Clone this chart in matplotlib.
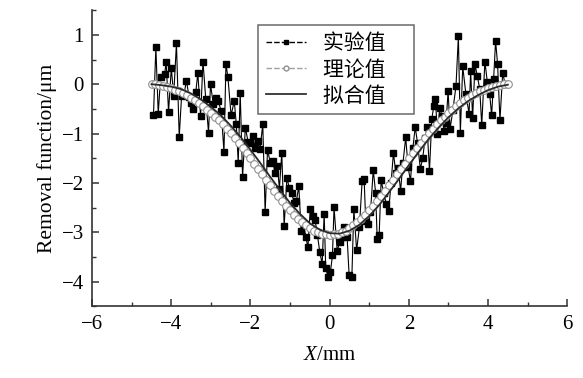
import matplotlib
matplotlib.use("Agg")
import matplotlib.pyplot as plt
import numpy as np
from matplotlib.lines import Line2D
from matplotlib.ticker import MultipleLocator

plt.rcParams["mathtext.fontset"] = "custom"
plt.rcParams["mathtext.it"] = "Liberation Serif:italic"
plt.rcParams["mathtext.rm"] = "Liberation Serif"

# 实验值 (measured)
exp_x = [-4.45, -4.39, -4.33, -4.27, -4.17, -4.13, -4.07, -4.00, -3.94, -3.87,
         -3.80, -3.74, -3.68, -3.62, -3.55, -3.50, -3.44, -3.38, -3.33, -3.26,
         -3.20, -3.13, -3.06, -3.01, -2.94, -2.88, -2.81, -2.74, -2.67, -2.62,
         -2.57, -2.49, -2.41, -2.36, -2.31, -2.26, -2.20, -2.13, -2.06, -2.00,
         -1.94, -1.88, -1.82, -1.76, -1.69, -1.63, -1.57, -1.50, -1.44, -1.38,
         -1.32, -1.27, -1.21, -1.15, -1.08, -1.02, -0.96, -0.90, -0.84, -0.78,
         -0.72, -0.66, -0.60, -0.55, -0.49, -0.43, -0.37, -0.31, -0.25, -0.19,
         -0.14, -0.10, -0.04, 0.02, 0.07, 0.11, 0.19, 0.25, 0.31, 0.36,
         0.44, 0.49, 0.56, 0.61, 0.68, 0.75, 0.82, 0.87, 0.91, 0.98,
         1.03, 1.10, 1.16, 1.20, 1.25, 1.30, 1.36, 1.43, 1.49, 1.55,
         1.61, 1.67, 1.73, 1.79, 1.85, 1.92, 1.98, 2.04, 2.10, 2.16,
         2.22, 2.29, 2.35, 2.41, 2.46, 2.52, 2.58, 2.63, 2.67, 2.72,
         2.78, 2.84, 2.89, 2.94, 2.99, 3.04, 3.11, 3.19, 3.25, 3.30,
         3.36, 3.44, 3.52, 3.56, 3.61, 3.67, 3.73, 3.79, 3.84, 3.92,
         3.98, 4.04, 4.09, 4.14, 4.19, 4.24, 4.30, 4.37, 4.43]
exp_y = [-0.62, 0.75, -0.60, 0.15, 0.20, 0.45, -0.56, 0.33, -0.23, 0.83,
         -1.07, -0.23, -0.22, 0.07, -0.25, -0.38, -0.50, -0.15, 0.23, -0.65,
         0.46, -0.30, -0.98, 0.00, -0.40, -0.27, -0.35, -0.55, -1.37, 0.41,
         0.14, -0.63, -0.34, -0.80, -1.59, -0.17, -1.88, -0.88, -1.17, -1.19,
         -1.05, -1.30, -1.15, -1.32, -0.81, -2.60, -1.33, -1.59, -1.55, -1.80,
         -1.66, -2.12, -1.39, -2.87, -1.90, -2.10, -2.20, -2.40, -2.36, -2.07,
         -2.98, -2.85, -3.10, -3.31, -2.53, -2.68, -2.75, -3.05, -3.41, -3.64,
         -2.63, -3.72, -3.91, -3.80, -3.47, -2.49, -3.39, -3.20, -3.10, -2.90,
         -3.10, -3.86, -3.91, -2.53, -3.37, -2.90, -1.96, -1.93, -2.77, -2.83,
         -2.60, -1.74, -2.20, -3.14, -3.05, -1.94, -2.20, -2.42, -2.57, -2.00,
         -1.39, -1.80, -1.70, -2.16, -1.60, -1.08, -1.68, -1.96, -1.30, -0.87,
         -1.20, -1.72, -1.49, -1.10, -0.87, -1.76, -0.70, -0.44, -0.29, -1.00,
         -0.49, -0.65, -0.95, -0.79, -0.14, -0.91, -0.53, -0.04, 0.97, -0.98,
         0.36, -0.20, -0.60, 0.26, -0.68, 0.40, 0.16, -0.10, -0.83, 0.46,
         0.05, -0.20, -0.63, 0.10, 0.88, 0.41, -0.73, 0.23, 0.00]

# 理论值 (theory), sampled every 0.1 mm from -4.5 to 4.5
theory_x = np.round(np.linspace(-4.5, 4.5, 91), 2)
theory_half = [-3.05, -3.045, -3.03, -3.00, -2.966, -2.92, -2.863, -2.80, -2.726, -2.646,
               -2.56, -2.466, -2.368, -2.265, -2.159, -2.051, -1.941, -1.83, -1.719, -1.608,
               -1.499, -1.391, -1.286, -1.185, -1.086, -0.992, -0.901, -0.815, -0.733, -0.657,
               -0.585, -0.515, -0.45, -0.388, -0.33, -0.277, -0.228, -0.184, -0.144, -0.108,
               -0.077, -0.05, -0.029, -0.013, -0.004, 0.0]
theory_y = theory_half[:0:-1] + theory_half

# 拟合值 (fit)
fit_x = [-4.5, -4.25, -4.0, -3.75, -3.5, -3.25, -3.0, -2.75, -2.5, -2.25,
         -2.0, -1.75, -1.5, -1.25, -1.0, -0.75, -0.5, -0.25, 0.0, 0.25,
         0.5, 0.75, 1.0, 1.25, 1.5, 1.75, 2.0, 2.25, 2.5, 2.75,
         3.0, 3.25, 3.5, 3.75, 4.0, 4.25, 4.5]
fit_y = [0.0, -0.02, -0.05, -0.10, -0.19, -0.31, -0.46, -0.63, -0.84, -1.07,
         -1.33, -1.60, -1.88, -2.15, -2.41, -2.63, -2.82, -2.95, -3.02, -3.03,
         -2.97, -2.85, -2.67, -2.45, -2.19, -1.92, -1.64, -1.37, -1.11, -0.88,
         -0.67, -0.49, -0.34, -0.22, -0.12, -0.05, -0.01]

legend_labels = ["实验值", "理论值", "拟合值"]

serif = ["Liberation Serif", "DejaVu Serif"]
cjk = ["Noto Sans CJK SC", "DejaVu Sans"]

fig = plt.figure(figsize=(5.83, 3.78), dpi=100)
ax = fig.add_axes([0.158, 0.19, 0.815, 0.783])

ax.plot(exp_x, exp_y, color="black", lw=0.8, marker="s", ms=4.5,
        mfc="black", mec="black", zorder=2)
ax.plot(theory_x, theory_y, color="#a0a0a0", lw=0.8, ls="--", marker="o", ms=5.5,
        mfc="white", mec="#909090", mew=0.8, zorder=3)
ax.plot(fit_x, fit_y, color="#2a2a2a", lw=1.3, zorder=4)

ax.set_xlim(-6, 6)
ax.set_ylim(-4.5, 1.5)
ax.xaxis.set_major_locator(MultipleLocator(2))
ax.xaxis.set_minor_locator(MultipleLocator(1))
ax.yaxis.set_minor_locator(MultipleLocator(0.5))
ax.set_yticks([1, 0, -1, -2, -3, -4])
for side in ("top", "right"):
    ax.spines[side].set_visible(False)
for side in ("left", "bottom"):
    ax.spines[side].set_linewidth(1.2)
    ax.spines[side].set_color("#333333")
ax.tick_params(which="major", direction="in", length=5, width=1.1, color="#333333")
ax.tick_params(which="minor", direction="in", length=3, width=1.0, color="#333333")
ax.tick_params(axis="both", labelsize=15, pad=6)
for label in ax.get_xticklabels() + ax.get_yticklabels():
    label.set_family(serif)

ax.set_ylabel("Removal function/μm", family=serif, fontsize=15.5, labelpad=3)
ax.set_xlabel(r"$\mathit{X}$/mm", family=serif, fontsize=15, labelpad=9)

handles = [
    Line2D([], [], color="black", lw=1.0, ls=(0, (4, 1.5)), marker="s", ms=3.5,
           mfc="black", mec="black"),
    Line2D([], [], color="#a0a0a0", lw=1.0, ls=(0, (4, 1.5)), marker="o", ms=3.5,
           mfc="white", mec="#909090"),
    Line2D([], [], color="#333333", lw=1.3),
]
# trailing ideographic space widens the box on the right as in the original
leg = ax.legend(handles, [t + "\u3000" for t in legend_labels], loc="upper left",
                bbox_to_anchor=(0.35, 0.95), prop={"family": cjk, "size": 15},
                frameon=True, fancybox=False, edgecolor="#444444", handlelength=1.95,
                handletextpad=0.8, labelspacing=0.2, borderpad=0.35, borderaxespad=0)
leg.get_frame().set_linewidth(1.1)

fig.savefig("out.png", dpi=100)
